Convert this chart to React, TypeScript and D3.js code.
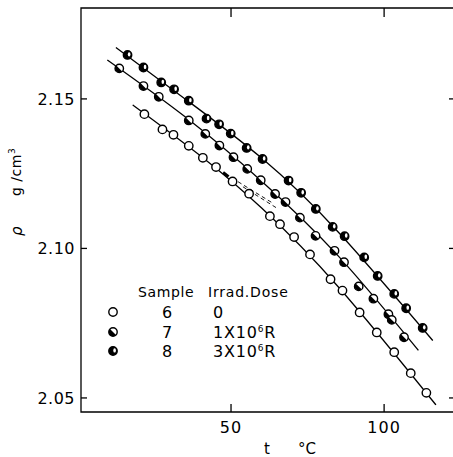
import React from 'react';
import * as d3 from 'd3';

// ---------- data ----------
const xTicks = [50, 100];
const xTickLabels = ['50', '100'];
const yTicks = [2.05, 2.1, 2.15];
const yTickLabels = ['2.05', '2.10', '2.15'];

// Sample 6 (open circles, dose 0)
const sample6T = [21.7, 27.6, 31.2, 36.2, 40.8, 45.1, 50.5, 55.9, 62.7, 66.0, 70.6, 75.8, 82.5, 86.4, 92.0, 97.6, 103.3, 108.7, 113.8];
const sample6Rho = [2.1449, 2.1398, 2.138, 2.1343, 2.1303, 2.1272, 2.1224, 2.1183, 2.1108, 2.1081, 2.1038, 2.098, 2.0897, 2.0859, 2.0786, 2.0719, 2.0653, 2.0583, 2.0517];
// Sample 7 (1x10^6 R)
const sample7T = [13.5, 21.4, 26.4, 36.2, 41.6, 46.2, 50.8, 55.3, 59.7, 64.4, 67.8, 72.5, 77.6, 83.8, 86.9, 91.7, 96.5, 101.4, 102.5, 106.5];
const sample7Rho = [2.1602, 2.1543, 2.1507, 2.1428, 2.1383, 2.1344, 2.1305, 2.1266, 2.1228, 2.1182, 2.1155, 2.1103, 2.1042, 2.0992, 2.0954, 2.0873, 2.0832, 2.078, 2.0761, 2.0703];
// Sample 8 (3x10^6 R)
const sample8T = [16.2, 21.4, 27.2, 31.4, 36.2, 42.0, 46.1, 49.9, 55.1, 60.3, 68.8, 72.9, 77.7, 83.2, 87.1, 93.5, 97.9, 103.3, 107.2, 112.6];
const sample8Rho = [2.1647, 2.1605, 2.1555, 2.1532, 2.1494, 2.1434, 2.1415, 2.1384, 2.1336, 2.1299, 2.1227, 2.1186, 2.1132, 2.1072, 2.1041, 2.097, 2.0908, 2.0848, 2.08, 2.0734];

// fitted curves (knots)
const curve6T = [17.9, 40, 60, 85, 116.9];
const curve6Rho = [2.148, 2.131, 2.1135, 2.0872, 2.0477];
const curve7T = [9.6, 35, 60, 85, 111.2];
const curve7Rho = [2.163, 2.144, 2.1225, 2.0975, 2.0659];
const curve8T = [12.4, 35, 60, 85, 115.9];
const curve8Rho = [2.1672, 2.15, 2.1302, 2.1055, 2.0692];

// dashed guide lines near sample 6
const dashAT = [52.3, 63.4];
const dashARho = [2.1223, 2.1153];
const dashBT = [53.9, 65.4];
const dashBRho = [2.1206, 2.1132];
const heavyT = [47.4, 49.2];
const heavyRho = [2.1254, 2.124];

// legend
const legendSamples = ['6', '7', '8'];
const legendDoseBase = ['0', '1X10', '3X10'];
const legendDoseExp = ['', '6', '6'];
const legendDoseUnit = ['', 'R', 'R'];

const tDomain = [1, 122.5];
const rhoDomain = [2.0453, 2.1804];

const W = 453;
const H = 457;
const left = 81;
const right = 453;
const top = 8;
const bottom = 412;

const FONT = 'DejaVu Sans, sans-serif';

function Marker({ kind, cx, cy }: { kind: number; cx: number; cy: number }) {
  const r = 4.2;
  if (kind === 0) {
    return <circle cx={cx} cy={cy} r={r} fill="#fff" stroke="#000" strokeWidth={1.4} />;
  }
  if (kind === 1) {
    const k = r * 0.7071;
    const d = `M${cx + k},${cy + k} A${r},${r} 0 0 1 ${cx - k},${cy - k} Z`;
    return (
      <g>
        <circle cx={cx} cy={cy} r={r} fill="#fff" stroke="#000" strokeWidth={1.4} />
        <path d={d} fill="#000" />
      </g>
    );
  }
  return (
    <g>
      <circle cx={cx} cy={cy} r={r} fill="#000" stroke="#000" strokeWidth={1.4} />
      <ellipse cx={cx + 1.6} cy={cy - 0.6} rx={1.3} ry={2.2} fill="#fff" />
    </g>
  );
}

export default function App() {
  const x = d3.scaleLinear().domain(tDomain).range([left, right]);
  const y = d3.scaleLinear().domain(rhoDomain).range([bottom, top]);

  const line = d3
    .line<[number, number]>()
    .x((d) => x(d[0]))
    .y((d) => y(d[1]))
    .curve(d3.curveNatural);
  const straight = d3
    .line<[number, number]>()
    .x((d) => x(d[0]))
    .y((d) => y(d[1]));

  const zip = (a: number[], b: number[]) => a.map((v, i) => [v, b[i]] as [number, number]);

  const series = [
    { t: sample6T, r: sample6Rho, ct: curve6T, cr: curve6Rho, kind: 0 },
    { t: sample7T, r: sample7Rho, ct: curve7T, cr: curve7Rho, kind: 1 },
    { t: sample8T, r: sample8Rho, ct: curve8T, cr: curve8Rho, kind: 2 },
  ];

  const legendRowsY = [312, 332, 351];

  return (
    <svg
      width={W}
      height={H}
      style={{ position: 'absolute', left: 0, top: 0, background: '#fff' }}
      fontFamily={FONT}
    >
      <rect x={0} y={0} width={W} height={H} fill="#fff" />
      {/* frame */}
      <path d={`M${right},${top} H${left} V${bottom} H${right}`} fill="none" stroke="#000" strokeWidth={1.3} />
      {/* x ticks bottom & top */}
      {xTicks.map((t, i) => (
        <g key={'xt' + i}>
          <line x1={x(t)} x2={x(t)} y1={bottom} y2={bottom - 8} stroke="#000" strokeWidth={1.3} />
          <line x1={x(t)} x2={x(t)} y1={top} y2={top + 9} stroke="#000" strokeWidth={1.3} />
          <text x={x(t)} y={433} textAnchor="middle" fontSize={16} letterSpacing={1}>
            {xTickLabels[i]}
          </text>
        </g>
      ))}
      {/* y ticks left & right */}
      {yTicks.map((v, i) => (
        <g key={'yt' + i}>
          <line x1={left} x2={left + 6} y1={y(v)} y2={y(v)} stroke="#000" strokeWidth={1.3} />
          <line x1={right - 4} x2={right} y1={y(v)} y2={y(v)} stroke="#000" strokeWidth={1.3} />
          <text x={75} y={y(v) + 6} textAnchor="end" fontSize={16} letterSpacing={0.5}>
            {yTickLabels[i]}
          </text>
        </g>
      ))}
      {/* axis titles */}
      <text x={267} y={454} textAnchor="middle" fontSize={15}>t</text>
      <text x={298} y={454} fontSize={15}>°C</text>
      <text transform="translate(22,236) rotate(-90)" fontSize={15} fontStyle="italic">ρ</text>
      <text transform="translate(21,196) rotate(-90)" fontSize={14} letterSpacing={0.5}>
        g /cm<tspan dy={-6} fontSize={9}>3</tspan>
      </text>

      {/* curves */}
      {series.map((s, i) => (
        <path key={'c' + i} d={line(zip(s.ct, s.cr)) || ''} fill="none" stroke="#000" strokeWidth={1.3} />
      ))}
      <path d={straight(zip(dashAT, dashARho)) || ''} fill="none" stroke="#000" strokeWidth={0.9} strokeDasharray="4,3" />
      <path d={straight(zip(dashBT, dashBRho)) || ''} fill="none" stroke="#000" strokeWidth={0.9} strokeDasharray="4,3" />
      <path d={straight(zip(heavyT, heavyRho)) || ''} fill="none" stroke="#000" strokeWidth={3} />

      {/* points */}
      {series.map((s, i) => (
        <g key={'p' + i}>
          {s.t.map((t, j) => (
            <Marker key={j} kind={s.kind} cx={x(t)} cy={y(s.r[j])} />
          ))}
        </g>
      ))}

      {/* legend */}
      <text x={138} y={297} fontSize={14} letterSpacing={0.6}>Sample</text>
      <text x={208} y={297} fontSize={14} letterSpacing={0.8}>Irrad.Dose</text>
      {legendSamples.map((s, i) => (
        <g key={'lg' + i}>
          <Marker kind={i} cx={113} cy={legendRowsY[i]} />
          <text x={167} y={legendRowsY[i] + 5.5} textAnchor="middle" fontSize={16}>{s}</text>
          <text x={213} y={legendRowsY[i] + 5.5} fontSize={16} letterSpacing={0.8}>
            {legendDoseBase[i]}
            {legendDoseExp[i] ? (
              <tspan dy={-6} fontSize={9}>{legendDoseExp[i]}</tspan>
            ) : null}
            {legendDoseUnit[i] ? <tspan dy={legendDoseExp[i] ? 6 : 0}>{legendDoseUnit[i]}</tspan> : null}
          </text>
        </g>
      ))}
    </svg>
  );
}
